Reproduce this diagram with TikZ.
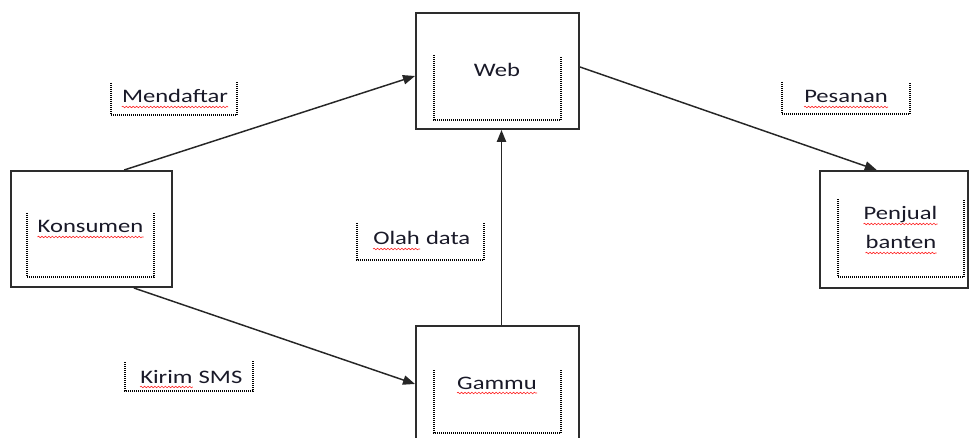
\documentclass[tikz,border=0pt]{standalone}
\usepackage{fontspec}
\setmainfont{Carlito}[FakeStretch=1.29]
\usetikzlibrary{arrows.meta,calc,decorations.pathmorphing}
\definecolor{txt}{RGB}{25,25,40}
\definecolor{boxc}{RGB}{45,45,45}
\begin{document}
\begin{tikzpicture}[x=0.75pt,y=-0.75pt,
  every node/.style={font=\fontsize{14.3}{17}\selectfont, text=txt},
  mainbox/.style={draw=boxc, line width=1.5pt, rectangle, inner sep=0pt},
  lbl/.style={inner sep=0pt, anchor=base},
  dotbr/.style={draw=black, line width=0.8pt, dash pattern=on 0.75pt off 0.75pt},
  conn/.style={draw=black!85, line width=1.1pt, -{Triangle[length=9pt,width=7pt]}},
  squig/.style={draw=red!85, line width=0.45pt, decorate,
     decoration={snake, amplitude=0.6pt, segment length=2.6pt}}]
\useasboundingbox (0,0) rectangle (971,438);
\begin{scope}
\clip (0,0) rectangle (971,438);
% main boxes (sizes: px * 0.75pt)
\node[mainbox, minimum width=120.75pt, minimum height=87pt] (kons) at (91.5,229) {};
\node[mainbox, minimum width=122.25pt, minimum height=87pt] (web) at (497.5,71) {};
\node[mainbox, minimum width=111pt, minimum height=87.75pt] (penj) at (894,229.5) {};
\node[mainbox, minimum width=122.25pt, minimum height=87pt] (gammu) at (497.5,384) {};
\end{scope}
% inner dotted brackets
\draw[dotbr] (27,213) -- (27,277) -- (154,277) -- (154,213);
\draw[dotbr] (434,55) -- (434,120) -- (561,120) -- (561,57);
\draw[dotbr] (838,199) -- (838,277) -- (964,277) -- (964,199);
\draw[dotbr] (434,370) -- (434,433) -- (561,433) -- (561,370);
% label brackets
\draw[dotbr] (111,83) -- (111,115) -- (237,115) -- (237,82);
\draw[dotbr] (357,223) -- (357,260) -- (484,260) -- (484,222);
\draw[dotbr] (125,362) -- (125,391) -- (253,391) -- (253,361);
\draw[dotbr] (782,82) -- (782,114) -- (910,114) -- (910,82);
% box texts
\node[lbl] (tkons) at (90.5,233) {Konsumen};
\node[lbl] (tweb) at (497,77) {Web};
\node[lbl] (tgammu) at (497,389) {Gammu};
\node[lbl] (tpenj) at (900.5,220) {Penjual};
\node[lbl] (tbant) at (901,249) {banten};
% connector labels
\node[lbl] (tmend) at (175,103) {Mendaftar};
\node[lbl, anchor=base west] (tolah) at (373,245) {Olah};
\node[lbl, anchor=base west] (tdata) at ($(tolah.base east)+(5.6,0)$) {data};
\node[lbl, anchor=base west] (tkirim) at (140,383) {Kirim};
\node[lbl, anchor=base west] (tsms) at ($(tkirim.base east)+(5.6,0)$) {SMS};
\node[lbl] (tpes) at (846,103) {Pesanan};
% spelling squiggles
\foreach \n in {tkons,tgammu,tpenj,tbant,tmend,tolah,tkirim,tpes}
  \draw[squig] ($(\n.base west)+(0,4)$) -- ($(\n.base east)+(0,4)$);
% connectors
\draw[conn] ($(kons.north west)!0.70!(kons.north east)$) -- ($(web.west)+(0,5)$);
\draw[conn] ($(kons.south west)!0.76!(kons.south east)$) -- (gammu.west);
\draw[conn] ($(gammu.north)+(4,0)$) -- ($(web.south)+(4,0)$);
\draw[conn] ($(web.east)+(0,-4)$) -- ($(penj.north west)!0.385!(penj.north east)$);
\end{tikzpicture}
\end{document}
